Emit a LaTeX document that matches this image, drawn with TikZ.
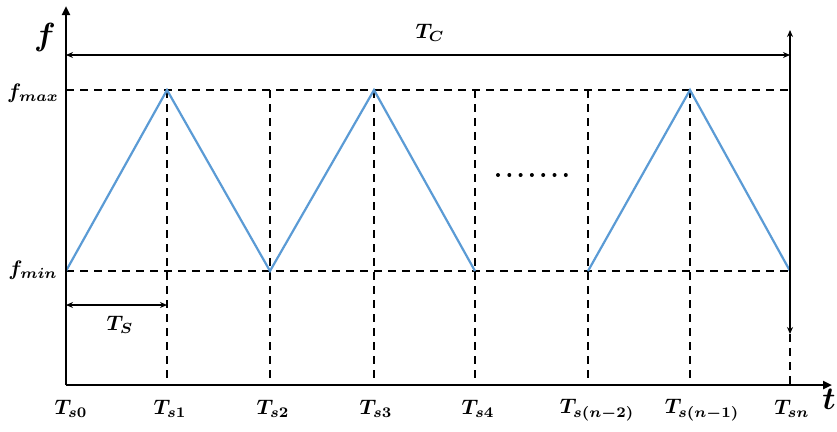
\documentclass[tikz,border=0pt]{standalone}
\usepackage{amsmath,bm,graphicx}
\usetikzlibrary{arrows.meta}
\definecolor{wave}{RGB}{91,155,213}
\newcommand{\lb}[1]{\scalebox{2.1}{$\bm{#1}$}}
\newcommand{\bg}[1]{\scalebox{3.2}{$\bm{#1}$}}
\begin{document}
\begin{tikzpicture}[x=1pt,y=-1pt,
  axis/.style={line width=2.6pt,-{Triangle[length=9pt,width=8pt]}},
  guide/.style={line width=1.8pt,dash pattern=on 8pt off 6pt},
  wavel/.style={line width=2.2pt,wave,line join=miter},
  dim/.style={line width=1.4pt,{Stealth[length=7pt,width=6pt]}-{Stealth[length=7pt,width=6pt]}},
  lbl/.style={inner sep=0pt}]
\useasboundingbox (0,0) rectangle (837,431);
% key coordinates
\coordinate (O) at (66,385);
\coordinate (ytop) at (66,6);
\coordinate (xend) at (832,385);
\foreach \n/\x in {0/66,1/167,2/270,3/374,4/475,5/588,6/690,7/790}{
  \coordinate (b\n) at (\x,385);
  \coordinate (hi\n) at (\x,90);
  \coordinate (lo\n) at (\x,271);
}
\coordinate (maxR) at (790,90);
\coordinate (minR) at (790,271);
\coordinate (tcL) at (66,55);
\coordinate (tcR) at (790,55);
\coordinate (vTop) at (790,30);
\coordinate (vBot) at (790,334);
\coordinate (tsL) at (66,305);
\coordinate (tsR) at (167,305);
% dashed guides
\draw[guide] (hi0) -- (maxR);
\draw[guide] (lo0) -- (minR);
\foreach \n in {1,2,3,4,5,6}{\draw[guide] (hi\n) -- (b\n);}
\draw[guide] (vBot) -- (b7);
% waveform
\draw[wavel] (lo0) -- (hi1) -- (lo2) -- (hi3) -- (lo4);
\draw[wavel] (lo5) -- (hi6) -- (lo7);
% dots
\foreach \i in {0,...,6}{\fill (498+\i*11.3,175) circle (2pt);}
% dimension arrows
\draw[dim] (tcL) -- (tcR);
\draw[dim] (vTop) -- (vBot);
\draw[dim] (tsL) -- (tsR);
% axes
\draw[axis] (O) -- (ytop);
\draw[axis] (O) -- (xend);
% labels
\node[lbl] (lf) at (45,37) {\bg{f}};
\node[lbl] (lt) at (829,399) {\bg{t}};
\node[lbl] (lmax) at (33,93) {\lb{f_{max}}};
\node[lbl] (lmin) at (33,270) {\lb{f_{min}}};
\node[lbl] (ltc) at (430,33) {\lb{T_C}};
\node[lbl] (lts) at (120,325) {\lb{T_S}};
\node[lbl] (l0) at (71,409) {\lb{T_{s0}}};
\node[lbl] (l1) at (170,409) {\lb{T_{s1}}};
\node[lbl] (l2) at (273,409) {\lb{T_{s2}}};
\node[lbl] (l3) at (376,409) {\lb{T_{s3}}};
\node[lbl] (l4) at (478,409) {\lb{T_{s4}}};
\node[lbl] (l5) at (597,410) {\lb{T_{s(n-2)}}};
\node[lbl] (l6) at (702,410) {\lb{T_{s(n-1)}}};
\node[lbl] (l7) at (792,409) {\lb{T_{sn}}};
\end{tikzpicture}
\end{document}
